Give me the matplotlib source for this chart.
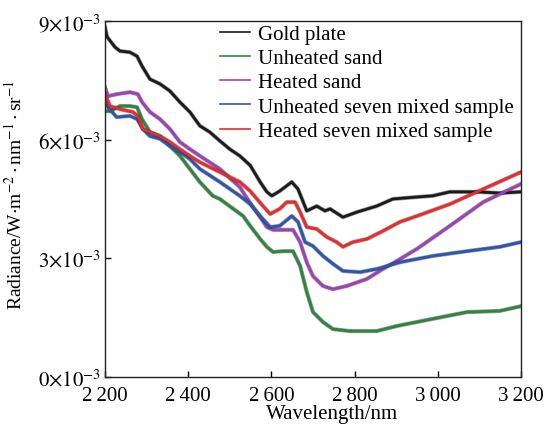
import matplotlib
matplotlib.use("Agg")
import matplotlib.pyplot as plt
import matplotlib.patheffects as pe

plt.rcParams['font.family'] = ['Liberation Serif', 'DejaVu Serif']
plt.rcParams['mathtext.fontset'] = 'stix'

# wavelength (nm) and radiance (x1e-3 W m-2 nm-1 sr-1)
gold_wl = [2200, 2205, 2224, 2236, 2260, 2277, 2289, 2308, 2332, 2356, 2380, 2404, 2428, 2452,
           2476, 2500, 2524, 2549, 2573, 2589, 2601, 2620, 2649, 2664, 2685, 2709, 2729, 2741,
           2772, 2806, 2853, 2892, 2950, 2988, 3029, 3094, 3150, 3200]
gold_val = [8.85, 8.6, 8.34, 8.24, 8.21, 8.11, 7.86, 7.53, 7.41, 7.23, 6.95, 6.7, 6.35, 6.19,
            5.97, 5.76, 5.59, 5.35, 4.93, 4.68, 4.58, 4.70, 4.93, 4.75, 4.2, 4.32, 4.2, 4.25,
            4.04, 4.17, 4.32, 4.5, 4.55, 4.58, 4.68, 4.68, 4.65, 4.68]

unheated_sand_wl = [2200, 2212, 2236, 2260, 2277, 2289, 2308, 2332, 2356, 2380, 2404, 2428, 2459,
                    2476, 2532, 2549, 2573, 2589, 2604, 2628, 2652, 2669, 2685, 2700, 2724, 2748,
                    2789, 2853, 2902, 2988, 3070, 3149, 3200]
unheated_sand_val = [6.72, 6.72, 6.85, 6.85, 6.82, 6.52, 6.19, 6.09, 5.84, 5.59, 5.26, 4.93, 4.58,
                     4.5, 4.07, 3.82, 3.49, 3.29, 3.16, 3.18, 3.18, 2.81, 2.15, 1.64, 1.39, 1.21,
                     1.16, 1.16, 1.29, 1.47, 1.64, 1.67, 1.79]

heated_sand_wl = [2200, 2207, 2228, 2260, 2279, 2289, 2308, 2332, 2356, 2380, 2404, 2428, 2476,
                  2524, 2549, 2573, 2589, 2604, 2652, 2669, 2685, 2700, 2724, 2748, 2781, 2830,
                  2868, 2909, 2950, 3029, 3109, 3200]
heated_sand_val = [7.33, 7.1, 7.15, 7.2, 7.15, 6.95, 6.7, 6.52, 6.27, 5.94, 5.76, 5.59, 5.26,
                   4.8, 4.4, 4.04, 3.79, 3.72, 3.72, 3.41, 2.9, 2.55, 2.3, 2.22, 2.3, 2.48,
                   2.73, 2.98, 3.24, 3.82, 4.42, 4.88]

unheated_mix_wl = [2200, 2207, 2228, 2260, 2277, 2291, 2308, 2332, 2356, 2380, 2404, 2428, 2476,
                   2524, 2549, 2573, 2597, 2620, 2649, 2664, 2681, 2700, 2724, 2748, 2772, 2813,
                   2853, 2909, 2988, 3070, 3149, 3200]
unheated_mix_val = [6.95, 6.82, 6.57, 6.6, 6.52, 6.27, 6.09, 6.02, 5.84, 5.69, 5.51, 5.26, 4.93,
                    4.58, 4.37, 4.07, 3.79, 3.82, 4.07, 3.92, 3.41, 3.31, 3.06, 2.86, 2.68, 2.65,
                    2.73, 2.9, 3.06, 3.18, 3.29, 3.41]

heated_mix_wl = [2200, 2212, 2236, 2267, 2279, 2291, 2308, 2332, 2356, 2380, 2404, 2428, 2476,
                 2524, 2549, 2580, 2597, 2620, 2637, 2657, 2669, 2685, 2709, 2733, 2757, 2772,
                 2796, 2830, 2868, 2909, 2950, 3029, 3109, 3200]
heated_mix_val = [7.15, 6.85, 6.77, 6.7, 6.6, 6.27, 6.19, 6.09, 5.94, 5.76, 5.59, 5.43, 5.18,
                  4.93, 4.70, 4.32, 4.12, 4.25, 4.42, 4.42, 4.17, 3.79, 3.74, 3.54, 3.41, 3.29,
                  3.41, 3.49, 3.69, 3.92, 4.07, 4.37, 4.75, 5.18]

labels = ['Gold plate', 'Unheated sand', 'Heated sand',
          'Unheated seven mixed sample', 'Heated seven mixed sample']
colors = ['#1a1a1a', '#2e8540', '#a040b8', '#2a55b0', '#f02828']

x_ticks = [2200, 2400, 2600, 2800, 3000, 3200]
x_tick_labels = ['2\u2009200', '2\u2009400', '2\u2009600', '2\u2009800', '3\u2009000', '3\u2009200']
y_ticks = [0, 3, 6, 9]

series = [(gold_wl, gold_val), (unheated_sand_wl, unheated_sand_val),
          (heated_sand_wl, heated_sand_val), (unheated_mix_wl, unheated_mix_val),
          (heated_mix_wl, heated_mix_val)]

fig = plt.figure(figsize=(5.48, 4.27), dpi=100)
ax = fig.add_axes([0.1916, 0.1148, 0.7591, 0.8337])

for (wl, val), lab, c in zip(series, labels, colors):
    ax.plot(wl, [v * 1e-3 for v in val], color=c, lw=2.0, label=lab,
            path_effects=[pe.Stroke(linewidth=3.0, foreground='#222222', alpha=0.45), pe.Normal()])

ax.set_xlim(2200, 3200)
ax.set_ylim(0, 9e-3)
ax.set_xticks(x_ticks)
ax.set_xticklabels(x_tick_labels)
ax.set_yticks([t * 1e-3 for t in y_ticks])
ax.set_yticklabels([r'$%d{\times}10^{-3}$' % t for t in y_ticks])
ax.tick_params(direction='in', labelsize=15, length=4, width=1)
ax.tick_params(axis='x', pad=6.5)
ax.tick_params(axis='y', pad=3)
for s in ax.spines.values():
    s.set_linewidth(1.0)
    s.set_color('#222222')

ax.set_xlabel('Wavelength/nm', fontsize=15)
ax.xaxis.set_label_coords(0.546, -0.075)
ax.set_ylabel(r'Radiance/W$\cdot$m$^{-2}\cdot$nm$^{-1}\cdot$sr$^{-1}$', fontsize=14)
ax.yaxis.set_label_coords(-0.19, 0.514)

leg = ax.legend(loc='upper left', bbox_to_anchor=(0.276, 0.99), frameon=False, fontsize=15,
                handlelength=1.45, borderpad=0, borderaxespad=0, labelspacing=0.22,
                handletextpad=0.38)
for h in leg.get_lines():
    h.set_linewidth(1.2)
    h.set_path_effects([])

fig.savefig('out.png', dpi=100)
